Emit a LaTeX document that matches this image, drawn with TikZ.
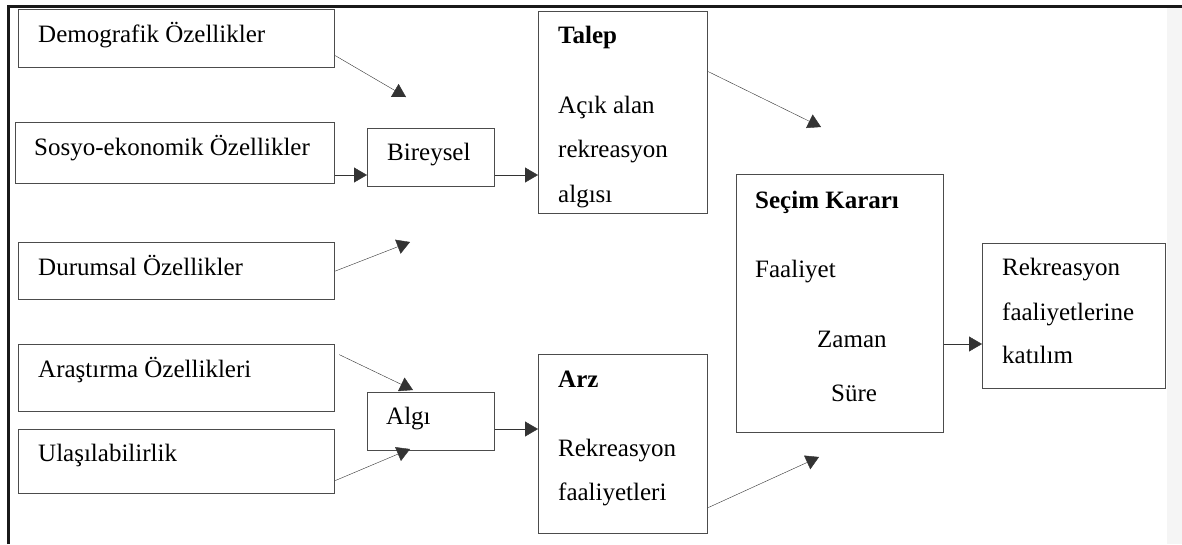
\documentclass[tikz,border=0pt]{standalone}
\usepackage{fontspec}
\setmainfont{Liberation Serif}
\usetikzlibrary{arrows.meta}

\begin{document}
\begin{tikzpicture}
  [x=1pt, y=-1pt,
   box/.style={draw=black!70, line width=1.2pt, inner sep=0pt, anchor=north west},
   txt/.style={anchor=base west, inner sep=0pt, font=\fontsize{25}{30}\selectfont},
   >={Triangle[length=13pt,width=15pt]}]
  \useasboundingbox (0,0) rectangle (1182,544);
  \fill[black!4] (1167,8) rectangle (1182,544);
  \draw[line width=3pt, black!90] (8,544) -- (8,6.5) -- (1182,6.5);

  % left column
  \node[box, minimum width=316pt, minimum height=58pt] (demo) at (18,9) {};
  \node[box, minimum width=319pt, minimum height=61pt] (sosyo) at (15,122) {};
  \node[box, minimum width=316pt, minimum height=57pt] (durum) at (18,242) {};
  \node[box, minimum width=316pt, minimum height=67pt] (arast) at (18,344) {};
  \node[box, minimum width=316pt, minimum height=64pt] (ulas) at (18,429) {};
  \node[txt] (demoT) at (38,42) {Demografik Özellikler};
  \node[txt] (sosyoT) at (34,155) {Sosyo-ekonomik Özellikler};
  \node[txt] (durumT) at (38,275) {Durumsal Özellikler};
  \node[txt] (arastT) at (38,377) {Araştırma Özellikleri};
  \node[txt] (ulasT) at (38,461) {Ulaşılabilirlik};

  % middle
  \node[box, minimum width=127pt, minimum height=58pt] (bireysel) at (367,128) {};
  \node[box, minimum width=127pt, minimum height=58pt] (algi) at (367,392) {};
  \node[txt] (bireyselT) at (387,160) {Bireysel};
  \node[txt] (algiT) at (386,424) {Algı};

  \node[box, minimum width=169pt, minimum height=202pt] (talep) at (538,11) {};
  \node[txt] (talep1) at (558,43) {\textbf{Talep}};
  \node[txt] (talep2) at (558,113) {Açık alan};
  \node[txt] (talep3) at (558,157) {rekreasyon};
  \node[txt] (talep4) at (558,202) {algısı};

  \node[box, minimum width=169pt, minimum height=179pt] (arz) at (538,354) {};
  \node[txt] (arz1) at (558,387) {\textbf{Arz}};
  \node[txt] (arz2) at (558,456) {Rekreasyon};
  \node[txt] (arz3) at (558,500) {faaliyetleri};

  % right
  \node[box, minimum width=207pt, minimum height=258pt] (secim) at (736,174) {};
  \node[txt] (secim1) at (755,208) {\textbf{Seçim Kararı}};
  \node[txt] (secim2) at (755,277) {Faaliyet};
  \node[txt] (secim3) at (817,347) {Zaman};
  \node[txt] (secim4) at (831,401) {Süre};

  \node[box, minimum width=183pt, minimum height=145pt] (rek) at (982,243) {};
  \node[txt] (rek1) at (1002,275) {Rekreasyon};
  \node[txt] (rek2) at (1002,320) {faaliyetlerine};
  \node[txt] (rek3) at (1002,363) {katılım};

  % arrows
  \coordinate (lvl1) at (0,175);
  \coordinate (lvl2) at (0,429);
  \coordinate (lvl3) at (0,344);
  \coordinate (p1) at (406,97);
  \coordinate (p2) at (410,242);
  \coordinate (p3) at (413,390);
  \coordinate (p4) at (410,449);
  \coordinate (p5) at (821,127);
  \coordinate (p6) at (819,457);

  \draw[->, black!80] (sosyo.east |- lvl1) -- (bireysel.west |- lvl1);
  \draw[->, black!80] (bireysel.east |- lvl1) -- (talep.west |- lvl1);
  \draw[->, black!80] (algi.east |- lvl2) -- (arz.west |- lvl2);
  \draw[->, black!80] (secim.east |- lvl3) -- (rek.west |- lvl3);
  \draw[->, black!80] ([yshift=-17pt]demo.east) -- (p1);
  \draw[->, black!80] (durum.east) -- (p2);
  \draw[->, black!80] ([xshift=4pt,yshift=23.5pt]arast.east) -- (p3);
  \draw[->, black!80] ([yshift=-19pt]ulas.east) -- (p4);
  \draw[->, black!80] ([yshift=41pt]talep.east) -- (p5);
  \draw[->, black!80] ([yshift=-63.5pt]arz.east) -- (p6);
\end{tikzpicture}
\end{document}
